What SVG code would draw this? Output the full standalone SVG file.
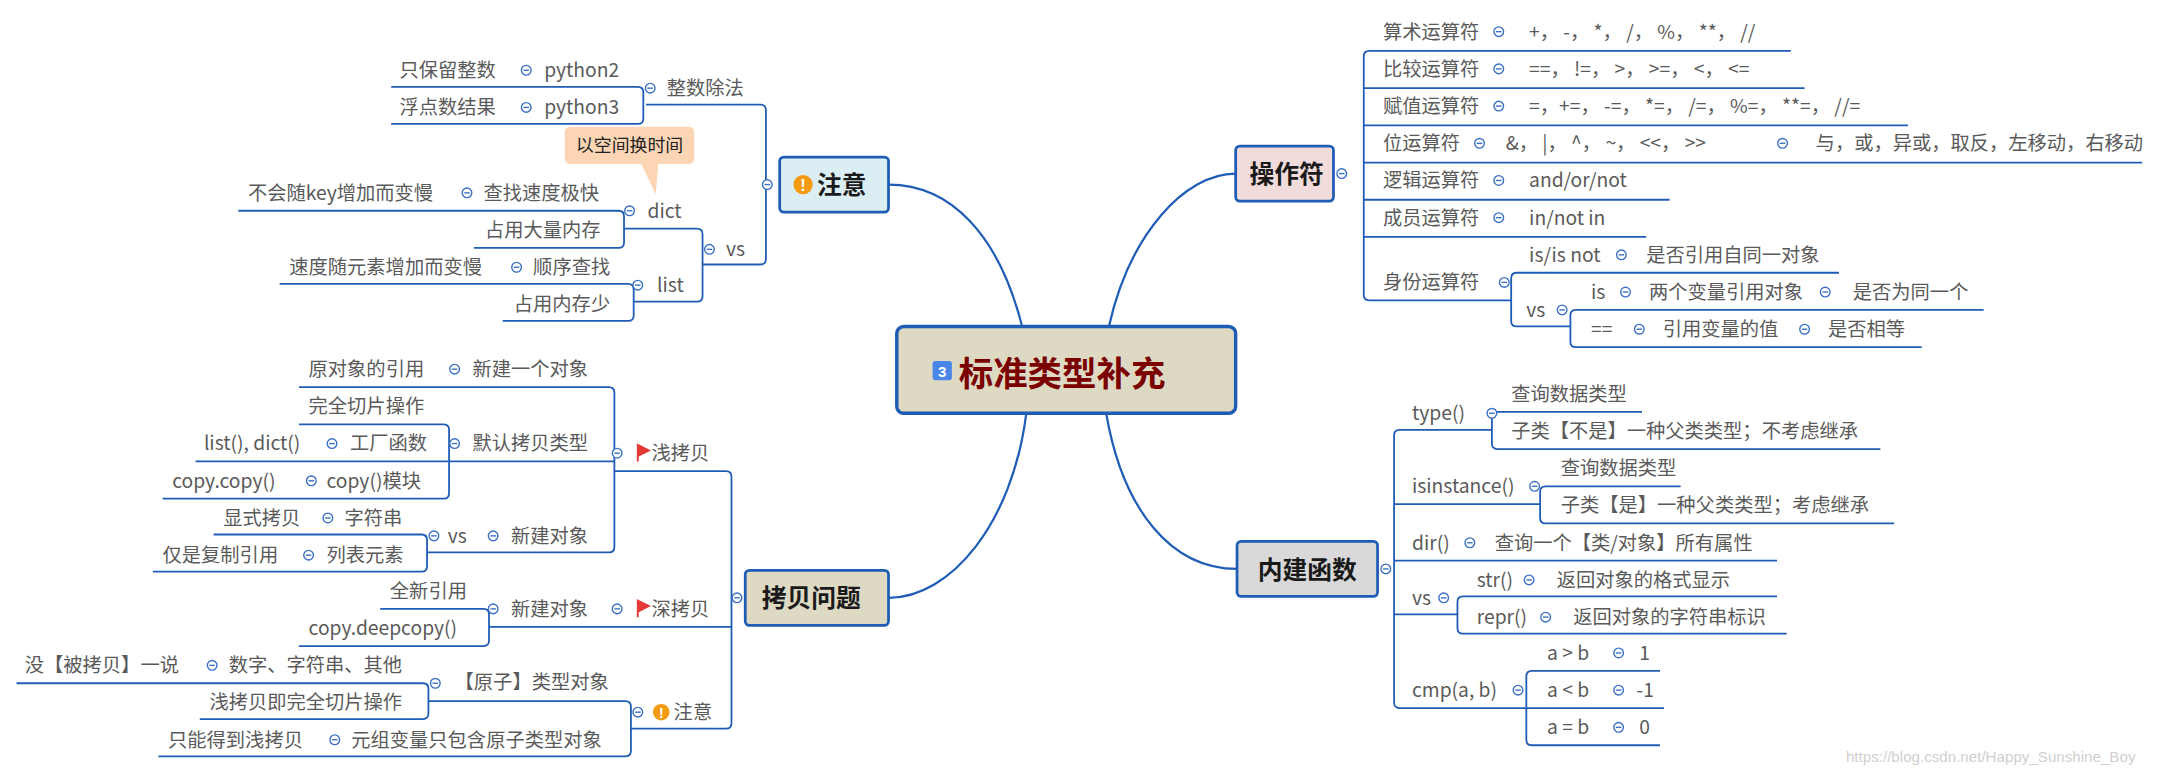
<svg xmlns="http://www.w3.org/2000/svg" xmlns:xlink="http://www.w3.org/1999/xlink" width="2160" height="773" viewBox="0 0 2160 773">
<style>
.t{font-family:"Noto Sans CJK SC","Liberation Sans",sans-serif;font-size:14px;fill:#5a5a5a}
.m{font-family:"Noto Sans CJK SC","Liberation Sans",sans-serif;font-size:18px;font-weight:bold;fill:#1a1a1a}
.l{stroke:#1f5cb5;stroke-width:1.3;fill:none}
.b{stroke:#1f5cb5;stroke-width:1.6;fill:none}
.box{stroke:#1f5cb5;stroke-width:2}
</style>
<defs>
<g id="c"><circle r="3.5" fill="#fff" stroke="#3a6fc4" stroke-width="1"/><line x1="-2" x2="2" y1="0" y2="0" stroke="#3a6fc4" stroke-width="1"/></g>
<path id="flag" d="M0,-6 V6 M0,-6 L8,-2 L0,2 Z" fill="#e53935" stroke="#e53935" stroke-width="1.4"/>
</defs>
<rect width="2160" height="773" fill="#fff"/>
<g transform="scale(1.37755)">
<g id="connectors">
<path class="b" d="M742,237 C725,170 690,134 645,134"/>
<path class="b" d="M805,237 C820,170 860,126 897,126"/>
<path class="b" d="M745,300 C735,380 690,434 645,434"/>
<path class="b" d="M803,300 C815,370 850,413 898,413"/>
<!-- 注意 top -->
<path class="l" d="M469,76 H552 Q556,76 556,80 V188 Q556,192 552,192 H510"/>
<path class="l" d="M284,63 H463 Q467,63 467,67 V86 Q467,90 463,90 H284"/>
<path class="l" d="M173,153 H449 Q453,153 453,157 V176 Q453,180 449,180 H344"/>
<path class="l" d="M453,166 H506 Q510,166 510,170 V215 Q510,219 506,219 H460"/>
<path class="l" d="M203,206 H456 Q460,206 460,210 V229 Q460,233 456,233 H365"/>
<!-- 操作符 -->
<path class="l" d="M1300,37 H994 Q990,37 990,41 V214 Q990,218 994,218 H1097"/>
<line class="l" x1="990" y1="64" x2="1310" y2="64"/>
<line class="l" x1="990" y1="91" x2="1385" y2="91"/>
<line class="l" x1="990" y1="118" x2="1555" y2="118"/>
<line class="l" x1="990" y1="145" x2="1212" y2="145"/>
<line class="l" x1="990" y1="172" x2="1195" y2="172"/>
<path class="l" d="M1335,198 H1101 Q1097,198 1097,202 V233 Q1097,237 1101,237 H1140"/>
<path class="l" d="M1440,225 H1144 Q1140,225 1140,229 V248 Q1140,252 1144,252 H1395"/>
<!-- 内建函数 -->
<path class="l" d="M1083,312 H1016 Q1012,312 1012,316 V510 Q1012,514 1016,514 H1108"/>
<line class="l" x1="1012" y1="366" x2="1118" y2="366"/>
<line class="l" x1="1012" y1="407" x2="1290" y2="407"/>
<line class="l" x1="1012" y1="446" x2="1058" y2="446"/>
<path class="l" d="M1192,299 H1087 Q1083,299 1083,303 V322 Q1083,326 1087,326 H1365"/>
<path class="l" d="M1220,353 H1122 Q1118,353 1118,357 V376 Q1118,380 1122,380 H1375"/>
<path class="l" d="M1290,433 H1062 Q1058,433 1058,437 V456 Q1058,460 1062,460 H1297"/>
<path class="l" d="M1205,487 H1112 Q1108,487 1108,491 V537 Q1108,541 1112,541 H1205"/>
<line class="l" x1="1108" y1="514" x2="1208" y2="514"/>
<!-- 拷贝问题 -->
<path class="l" d="M446,342 H527 Q531,342 531,346 V525 Q531,529 527,529 H458"/>
<line class="l" x1="355" y1="455" x2="531" y2="455"/>
<path class="l" d="M217,281 H442 Q446,281 446,285 V397 Q446,401 442,401 H310"/>
<line class="l" x1="142" y1="335" x2="446" y2="335"/>
<path class="l" d="M217,308 H322 Q326,308 326,312 V358 Q326,362 322,362 H118"/>
<path class="l" d="M155,388 H306 Q310,388 310,392 V411 Q310,415 306,415 H111"/>
<path class="l" d="M276,442 H351 Q355,442 355,446 V465 Q355,469 351,469 H217"/>
<path class="l" d="M311,509 H454 Q458,509 458,513 V545 Q458,549 454,549 H115"/>
<path class="l" d="M12,496 H307 Q311,496 311,500 V518 Q311,522 307,522 H145"/>
</g>

<g id="center">
<rect x="651" y="237" width="246" height="63" rx="5" fill="#ddd9c3" stroke="#1f5cb5" stroke-width="2.5"/>
<rect x="677" y="262" width="14" height="14" rx="2" fill="#4a86e8"/>
<text x="684" y="274" text-anchor="middle" style="font-family:'Liberation Sans',sans-serif;font-size:11px;font-weight:bold;fill:#fff">3</text>
<text x="696" y="280" style="font-family:'Noto Sans CJK SC',sans-serif;font-size:25px;font-weight:bold;fill:#7b0000">标准类型补充</text>
</g>

<g id="n-zhuyi">
<rect class="box" x="566" y="114" width="79" height="40" rx="3" fill="#dbeef4"/>
<circle cx="583" cy="134" r="7" fill="#f39c12"/>
<text x="583" y="139" text-anchor="middle" style="font-family:'Liberation Sans',sans-serif;font-size:12px;font-weight:bold;fill:#fff">!</text>
<text class="m" x="593" y="141">注意</text>
<use href="#c" x="557" y="134"/>
<text class="t" x="484" y="69">整数除法</text><use href="#c" x="472" y="64"/>
<text class="t" x="290" y="56">只保留整数</text><use href="#c" x="382" y="51"/><text class="t" x="395" y="56">python2</text>
<text class="t" x="290" y="83">浮点数结果</text><use href="#c" x="382" y="78"/><text class="t" x="395" y="83">python3</text>
<g id="callout"><path d="M465,118 L476,141 L478,118 Z" fill="#fcd5b5"/><rect x="410" y="92" width="94" height="27" rx="4" fill="#fcd5b5"/><text x="457" y="110" text-anchor="middle" style="font-family:'Noto Sans CJK SC',sans-serif;font-size:13px;fill:#222">以空间换时间</text></g>
<text class="t" x="527" y="186">vs</text><use href="#c" x="515" y="181"/>
<text class="t" x="470" y="158">dict</text><use href="#c" x="457" y="153"/>
<text class="t" x="180" y="145">不会随key增加而变慢</text><use href="#c" x="339" y="140"/><text class="t" x="351" y="145">查找速度极快</text>
<text class="t" x="352" y="172">占用大量内存</text>
<text class="t" x="477" y="212">list</text><use href="#c" x="463" y="207"/>
<text class="t" x="210" y="199">速度随元素增加而变慢</text><use href="#c" x="375" y="194"/><text class="t" x="387" y="199">顺序查找</text>
<text class="t" x="373" y="226">占用内存少</text>
</g>

<g id="n-caozuofu">
<rect class="box" x="897" y="106" width="71" height="40" rx="3" fill="#f2dcdb"/>
<text class="m" x="907" y="133">操作符</text>
<use href="#c" x="974" y="126"/>
<text class="t" x="1004" y="28">算术运算符</text><use href="#c" x="1088" y="23"/><text class="t" x="1110" y="28">+，  -，  *，  /，  %，  **，  //</text>
<text class="t" x="1004" y="55">比较运算符</text><use href="#c" x="1088" y="50"/><text class="t" x="1110" y="55">==，  !=，  &gt;，  &gt;=，  &lt;，  &lt;=</text>
<text class="t" x="1004" y="82">赋值运算符</text><use href="#c" x="1088" y="77"/><text class="t" x="1110" y="82">=，+=，  -=，  *=，  /=，  %=，  **=，  //=</text>
<text class="t" x="1004" y="109">位运算符</text><use href="#c" x="1074" y="104"/><text class="t" x="1093" y="109">&amp;，  |，  ^，  ~，  &lt;&lt;，  &gt;&gt;</text><use href="#c" x="1294" y="104"/><text class="t" x="1318" y="109">与，或，异或，取反，左移动，右移动</text>
<text class="t" x="1004" y="136">逻辑运算符</text><use href="#c" x="1088" y="131"/><text class="t" x="1110" y="136">and/or/not</text>
<text class="t" x="1004" y="163">成员运算符</text><use href="#c" x="1088" y="158"/><text class="t" x="1110" y="163">in/not in</text>
<text class="t" x="1004" y="210">身份运算符</text><use href="#c" x="1092" y="205"/>
<text class="t" x="1110" y="190">is/is not</text><use href="#c" x="1177" y="185"/><text class="t" x="1195" y="190">是否引用自同一对象</text>
<text class="t" x="1108" y="230">vs</text><use href="#c" x="1134" y="225"/>
<text class="t" x="1155" y="217">is</text><use href="#c" x="1180" y="212"/><text class="t" x="1197" y="217">两个变量引用对象</text><use href="#c" x="1325" y="212"/><text class="t" x="1345" y="217">是否为同一个</text>
<text class="t" x="1155" y="244">==</text><use href="#c" x="1190" y="239"/><text class="t" x="1207" y="244">引用变量的值</text><use href="#c" x="1310" y="239"/><text class="t" x="1327" y="244">是否相等</text>
</g>

<g id="n-neijian">
<rect class="box" x="898" y="393" width="102" height="40" rx="3" fill="#d9d9d9"/>
<text class="m" x="913" y="420">内建函数</text>
<use href="#c" x="1006" y="413"/>
<text class="t" x="1025" y="305">type()</text><use href="#c" x="1083" y="300"/>
<text class="t" x="1097" y="291">查询数据类型</text>
<text class="t" x="1097" y="318">子类【不是】一种父类类型；不考虑继承</text>
<text class="t" x="1025" y="358">isinstance()</text><use href="#c" x="1114" y="353"/>
<text class="t" x="1133" y="345">查询数据类型</text>
<text class="t" x="1133" y="372">子类【是】一种父类类型；考虑继承</text>
<text class="t" x="1025" y="399">dir()</text><use href="#c" x="1067" y="394"/><text class="t" x="1085" y="399">查询一个【类/对象】所有属性</text>
<text class="t" x="1025" y="439">vs</text><use href="#c" x="1048" y="434"/>
<text class="t" x="1072" y="426">str()</text><use href="#c" x="1110" y="421"/><text class="t" x="1130" y="426">返回对象的格式显示</text>
<text class="t" x="1072" y="453">repr()</text><use href="#c" x="1122" y="448"/><text class="t" x="1142" y="453">返回对象的字符串标识</text>
<text class="t" x="1025" y="506">cmp(a, b)</text><use href="#c" x="1102" y="501"/>
<text class="t" x="1123" y="479">a &gt; b</text><use href="#c" x="1175" y="474"/><text class="t" x="1190" y="479">1</text>
<text class="t" x="1123" y="506">a &lt; b</text><use href="#c" x="1175" y="501"/><text class="t" x="1188" y="506">-1</text>
<text class="t" x="1123" y="533">a = b</text><use href="#c" x="1175" y="528"/><text class="t" x="1190" y="533">0</text>
</g>

<g id="n-kaobei">
<rect class="box" x="541" y="414" width="104" height="40" rx="3" fill="#ddd9c3"/>
<text class="m" x="553" y="441">拷贝问题</text>
<use href="#c" x="535" y="434"/>
<use href="#c" x="448" y="329"/><use href="#flag" x="463" y="329"/><text class="t" x="473" y="334">浅拷贝</text>
<text class="t" x="224" y="273">原对象的引用</text><use href="#c" x="330" y="268"/><text class="t" x="343" y="273">新建一个对象</text>
<text class="t" x="343" y="327">默认拷贝类型</text><use href="#c" x="330" y="322"/>
<text class="t" x="224" y="300">完全切片操作</text>
<text class="t" x="148" y="327">list(), dict()</text><use href="#c" x="241" y="322"/><text class="t" x="254" y="327">工厂函数</text>
<text class="t" x="125" y="354">copy.copy()</text><use href="#c" x="226" y="349"/><text class="t" x="237" y="354">copy()模块</text>
<text class="t" x="371" y="394">新建对象</text><use href="#c" x="358" y="389"/><text class="t" x="325" y="394">vs</text><use href="#c" x="315" y="389"/>
<text class="t" x="162" y="381">显式拷贝</text><use href="#c" x="238" y="376"/><text class="t" x="250" y="381">字符串</text>
<text class="t" x="118" y="408">仅是复制引用</text><use href="#c" x="224" y="403"/><text class="t" x="237" y="408">列表元素</text>
<use href="#c" x="448" y="442"/><use href="#flag" x="463" y="442"/><text class="t" x="473" y="447">深拷贝</text>
<text class="t" x="371" y="447">新建对象</text><use href="#c" x="358" y="442"/>
<text class="t" x="283" y="434">全新引用</text>
<text class="t" x="224" y="461">copy.deepcopy()</text>
<use href="#c" x="463" y="517"/><circle cx="480" cy="517" r="6" fill="#f39c12"/><text x="480" y="521" text-anchor="middle" style="font-family:'Liberation Sans',sans-serif;font-size:10px;font-weight:bold;fill:#fff">!</text><text class="t" x="489" y="522">注意</text>
<text class="t" x="330" y="500">【原子】类型对象</text><use href="#c" x="316" y="496"/>
<text class="t" x="18" y="488">没【被拷贝】一说</text><use href="#c" x="154" y="483"/><text class="t" x="166" y="488">数字、字符串、其他</text>
<text class="t" x="152" y="515">浅拷贝即完全切片操作</text>
<text class="t" x="122" y="542">只能得到浅拷贝</text><use href="#c" x="243" y="537"/><text class="t" x="255" y="542">元组变量只包含原子类型对象</text>
</g>
<text x="1340" y="553" style="font-family:'Liberation Sans',sans-serif;font-size:11px;fill:#cfcfcf">https://blog.csdn.net/Happy_Sunshine_Boy</text>
</g>
</svg>
